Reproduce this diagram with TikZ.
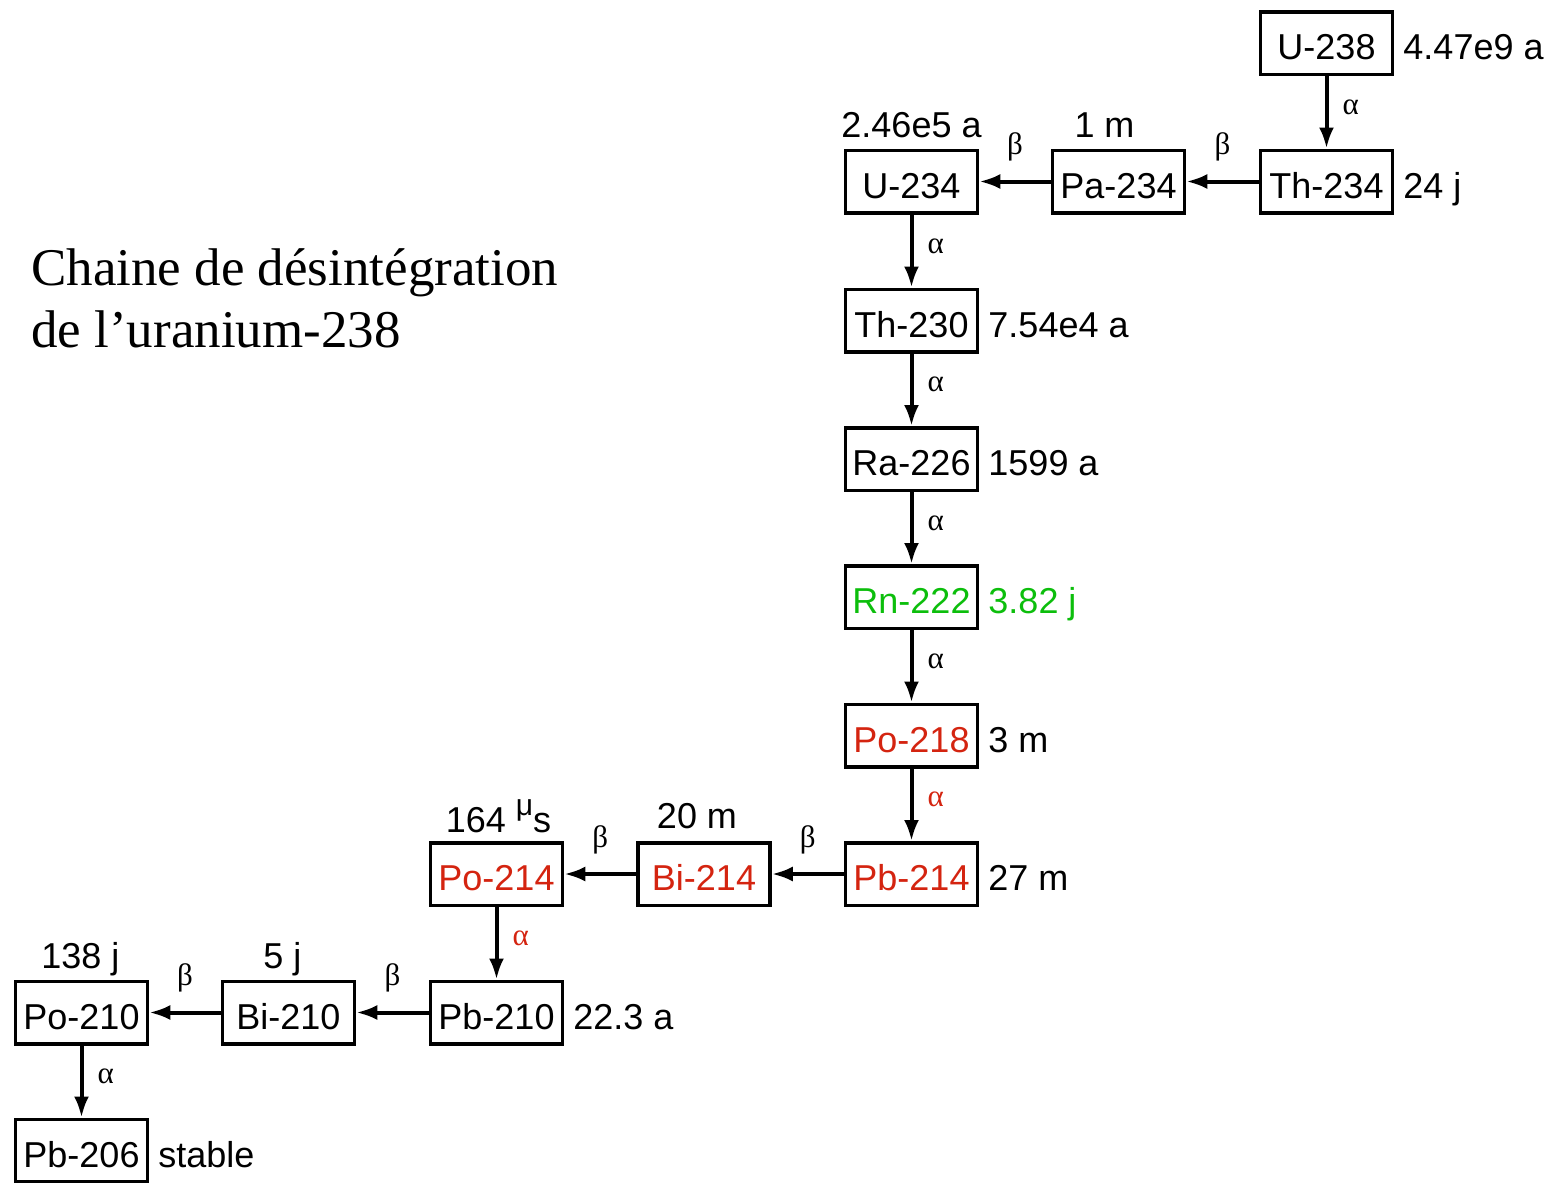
\documentclass[tikz,border=0pt]{standalone}
\usepackage{fontspec}
\setmainfont{Liberation Sans}
\newfontfamily\serifgr{Liberation Serif}
\usetikzlibrary{arrows.meta}
\definecolor{nred}{RGB}{212,36,16}
\definecolor{ngreen}{RGB}{12,190,12}
\begin{document}
\begin{tikzpicture}[x=1pt,y=-1pt,
  iso/.style={draw, line width=3.5pt, minimum width=132pt, minimum height=62.5pt, inner sep=0pt, text height=33pt, text depth=0pt, font=\fontsize{36}{40}\selectfont},
  hl/.style={font=\fontsize{36}{40}\selectfont, inner sep=0pt},
  arr/.style={line width=4pt, arrows={-Latex[length=21pt, width=15pt]}},
  gr/.style={font=\serifgr\fontsize{31}{33}\selectfont, inner sep=0pt},
  alab/.style={gr, midway, anchor=west, xshift=14pt, yshift=5pt},
  blab/.style={gr, midway, anchor=base, yshift=27pt},
  ttl/.style={font=\serifgr\fontsize{53}{62}\selectfont, inner sep=0pt, anchor=base west}
]
\useasboundingbox (0,0) rectangle (1558,1183);
% title
\node[ttl] (t1) at (31,285) {Chaine de désintégration};
\node[ttl] (t2) at (31,347) {de l’uranium-238};
% boxes
\node[iso] (u238) at (1326.5,43) {U-238};
\node[iso] (th234) at (1326.5,181.5) {Th-234};
\node[iso] (pa234) at (1118.5,181.5) {Pa-234};
\node[iso] (u234) at (911.5,181.5) {U-234};
\node[iso] (th230) at (911.5,320.5) {Th-230};
\node[iso] (ra226) at (911.5,459) {Ra-226};
\node[iso, text=ngreen] (rn222) at (911.5,597) {Rn-222};
\node[iso, text=nred] (po218) at (911.5,735.5) {Po-218};
\node[iso, text=nred] (pb214) at (911.5,874) {Pb-214};
\node[iso, text=nred] (bi214) at (704,874) {Bi-214};
\node[iso, text=nred] (po214) at (496.5,874) {Po-214};
\node[iso] (pb210) at (496.5,1012.5) {Pb-210};
\node[iso] (bi210) at (288.5,1012.5) {Bi-210};
\node[iso] (po210) at (81.5,1012.5) {Po-210};
\node[iso] (pb206) at (81.5,1150.5) {Pb-206};
% half-lives at the right
\node[hl, anchor=base west] (h238) at ([xshift=9pt]u238.base east) {4.47e9 a};
\node[hl, anchor=base west] (hth234) at ([xshift=9pt]th234.base east) {24 j};
\node[hl, anchor=base west] (hth230) at ([xshift=9pt]th230.base east) {7.54e4 a};
\node[hl, anchor=base west] (hra226) at ([xshift=9pt]ra226.base east) {1599 a};
\node[hl, anchor=base west, text=ngreen] (hrn222) at ([xshift=9pt]rn222.base east) {3.82 j};
\node[hl, anchor=base west] (hpo218) at ([xshift=9pt]po218.base east) {3 m};
\node[hl, anchor=base west] (hpb214) at ([xshift=9pt]pb214.base east) {27 m};
\node[hl, anchor=base west] (hpb210) at ([xshift=9pt]pb210.base east) {22.3 a};
\node[hl, anchor=base west] (hpb206) at ([xshift=9pt]pb206.base east) {stable};
% half-lives above
\node[hl, anchor=base] (hu234) at ([yshift=11pt]u234.north) {2.46e5 a};
\node[hl, anchor=base] (hpa234) at ([xshift=-14pt,yshift=11pt]pa234.north) {1 m};
\node[hl, anchor=base] (hpo214) at ([xshift=2pt,yshift=9pt]po214.north) {164 \raisebox{0.45em}{\fontsize{30}{32}\selectfont μ}s};
\node[hl, anchor=base] (hbi214) at ([xshift=-7pt,yshift=13pt]bi214.north) {20 m};
\node[hl, anchor=base] (hpo210) at ([xshift=-1pt,yshift=11pt]po210.north) {138 j};
\node[hl, anchor=base] (hbi210) at ([xshift=-6pt,yshift=11pt]bi210.north) {5 j};
% decays
\draw[arr] (u238) -- node[alab] {α} (th234);
\draw[arr] (th234) -- node[blab] {β} (pa234);
\draw[arr] (pa234) -- node[blab] {β} (u234);
\draw[arr] (u234) -- node[alab] {α} (th230);
\draw[arr] (th230) -- node[alab] {α} (ra226);
\draw[arr] (ra226) -- node[alab] {α} (rn222);
\draw[arr] (rn222) -- node[alab] {α} (po218);
\draw[arr] (po218) -- node[alab, text=nred] {α} (pb214);
\draw[arr] (pb214) -- node[blab] {β} (bi214);
\draw[arr] (bi214) -- node[blab] {β} (po214);
\draw[arr] (po214) -- node[alab, text=nred] {α} (pb210);
\draw[arr] (pb210) -- node[blab] {β} (bi210);
\draw[arr] (bi210) -- node[blab] {β} (po210);
\draw[arr] (po210) -- node[alab] {α} (pb206);
\end{tikzpicture}
\end{document}
